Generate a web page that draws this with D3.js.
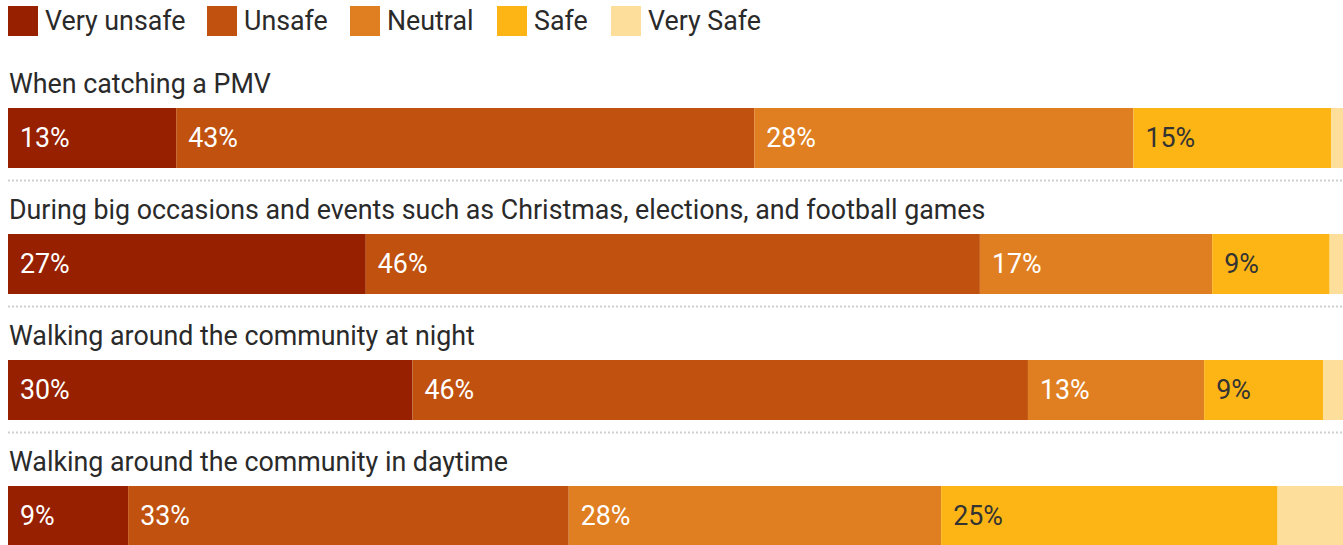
<!DOCTYPE html>
<html>
<head>
<meta charset="utf-8">
<script src="https://cdn.jsdelivr.net/npm/d3@7"></script>
<style>
  body { margin: 0; background: #fff; }
  svg { display: block; font-family: Roboto, sans-serif; }
</style>
</head>
<body>
<svg id="chart" width="1343" height="545"></svg>
<script>
var questions = [
    'When catching a PMV',
    'During big occasions and events such as Christmas, elections, and football games',
    'Walking around the community at night',
    'Walking around the community in daytime'
];
var levels = ['Very unsafe', 'Unsafe', 'Neutral', 'Safe', 'Very Safe'];
var colors = ['#962000', '#c0510e', '#e07f21', '#fdb515', '#fddf9b'];
var veryUnsafe = [12.6, 26.8, 30.3, 9.0];
var unsafe     = [43.3, 46.0, 46.1, 33.0];
var neutral    = [28.4, 17.4, 13.2, 27.9];
var safe       = [14.8, 8.8, 8.9, 25.2];
var verySafe   = [0.9, 1.0, 1.5, 4.9];

var width = 1343,
    left = 8,
    barH = 60,
    rowStep = 126,
    top0 = 108,
    fontSize = 26.8;

var svg = d3.select('#chart');

var rows = questions.map(function (q, i) {
    var r = { question: q };
    r[levels[0]] = veryUnsafe[i];
    r[levels[1]] = unsafe[i];
    r[levels[2]] = neutral[i];
    r[levels[3]] = safe[i];
    r[levels[4]] = verySafe[i];
    return r;
});

var x = d3.scaleLinear().domain([0, 100]).range([left, width]);
var y = d3.scaleBand().domain(questions).range([top0, top0 + rowStep * questions.length]).padding(0);
var color = d3.scaleOrdinal().domain(levels).range(colors);
var textColor = d3.scaleOrdinal().domain(levels).range(['#fff', '#fff', '#fff', '#333', '#333']);

// legend
var legendX = [8, 207, 350, 497, 611];
var legend = svg.append('g').attr('class', 'legend')
    .selectAll('g').data(levels).enter().append('g')
    .attr('transform', function (d, i) { return 'translate(' + legendX[i] + ',6)'; });
legend.append('rect').attr('width', 30).attr('height', 30).attr('fill', color);
legend.append('text').attr('x', 37).attr('y', 15).attr('dy', '0.35em')
    .attr('font-size', fontSize).attr('fill', '#2a2a2a').text(function (d) { return d; });

// stacked series
var stack = d3.stack().keys(levels);
var series = stack(rows);

var rowG = svg.append('g').selectAll('g.row').data(rows).enter().append('g')
    .attr('class', function (d, i) { return 'row row-' + i; });

rowG.append('text')
    .attr('x', 9)
    .attr('y', function (d) { return y(d.question) - 15; })
    .attr('font-size', fontSize).attr('fill', '#2a2a2a')
    .text(function (d) { return d.question; });

rowG.filter(function (d, i) { return i < rows.length - 1; })
    .append('line')
    .attr('x1', left).attr('x2', width)
    .attr('y1', function (d) { return y(d.question) + barH + 12.5; })
    .attr('y2', function (d) { return y(d.question) + barH + 12.5; })
    .attr('stroke', '#cfcfcf').attr('stroke-width', 2).attr('stroke-dasharray', '2,2');

var layer = svg.append('g').selectAll('g.layer').data(series).enter().append('g')
    .attr('class', 'layer').attr('fill', function (d) { return color(d.key); });

layer.selectAll('rect').data(function (d) { return d; }).enter().append('rect')
    .attr('x', function (d) { return x(d[0]); })
    .attr('y', function (d) { return y(d.data.question); })
    .attr('width', function (d) { return x(d[1]) - x(d[0]); })
    .attr('height', barH);

layer.each(function (s) {
    if (s.key === 'Very Safe') return;
    d3.select(this).selectAll('text').data(s).enter().append('text')
        .attr('x', function (d) { return x(d[0]) + 12; })
        .attr('y', function (d) { return y(d.data.question) + barH / 2; })
        .attr('dy', '0.35em')
        .attr('font-size', fontSize)
        .attr('fill', textColor(s.key))
        .text(function (d) { return Math.round(d[1] - d[0]) + '%'; });
});
</script>
</body>
</html>
